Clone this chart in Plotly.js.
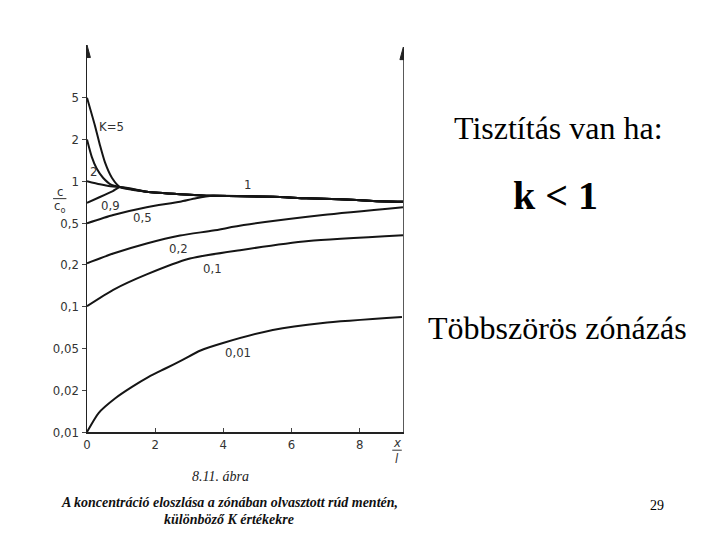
<!DOCTYPE html>
<html>
<head>
<meta charset="utf-8">
<script src="https://cdn.plot.ly/plotly-3.0.1.min.js"></script>
<style>
html,body{margin:0;padding:0;background:#fff;}
#chart{width:720px;height:540px;}
</style>
</head>
<body>
<div id="chart"></div>
<script>
// y-axis tick values (c/c0), equally spaced on the original figure
const yTickVals = [0.01, 0.02, 0.05, 0.1, 0.2, 0.5, 1, 2, 5];
const yTickText = ["0,01", "0,02", "0,05", "0,1", "0,2", "0,5", "1", "2", "5"];
const xTickVals = [0, 2, 4, 6, 8];

// shared branch where curves K >= 0.5 merge
const xMain = [0.97, 1.75, 2.73, 3.7, 5.45, 6.44, 7.42, 8.39, 9.27];
const cMain = [0.907, 0.841, 0.807, 0.785, 0.774, 0.753, 0.742, 0.722, 0.712];

const xK5 = [0, 0.23, 0.38, 0.53, 0.73];
const cK5 = [5.0, 2.73, 1.82, 1.36, 1.06];
const xK2 = [0, 0.14, 0.28, 0.47, 0.72];
const cK2 = [2.0, 1.5, 1.24, 1.06, 0.94];
const xK1 = [0, 0.38, 0.76];
const cK1 = [1.0, 0.95, 0.915];
const xK09 = [0, 0.38, 0.76];
const cK09 = [0.70, 0.77, 0.85];
const xK05 = [0, 0.77, 1.75, 2.73, 3.2];
const cK05 = [0.497, 0.571, 0.650, 0.712, 0.755];
const xK02 = [0, 0.77, 1.75, 2.73, 3.7, 4.6, 6.92, 9.27];
const cK02 = [0.207, 0.256, 0.319, 0.380, 0.424, 0.478, 0.571, 0.650];
const xK01 = [0, 0.77, 1.75, 3.02, 4.49, 6.5, 9.27];
const cK01 = [0.1007, 0.132, 0.1705, 0.2295, 0.2757, 0.337, 0.383];
const xK001 = [0, 0.34, 0.83, 1.32, 1.81, 2.3, 2.79, 3.33, 3.99, 5.45, 6.92, 9.24];
const cK001 = [0.01, 0.0137, 0.0175, 0.0215, 0.0268, 0.0322, 0.0387, 0.0478, 0.0547, 0.0679, 0.0763, 0.0841];

// custom scale: piecewise-logarithmic between equally spaced ticks
function toAxis(v) {
  for (let i = 0; i < yTickVals.length - 1; i++) {
    const a = yTickVals[i], b = yTickVals[i + 1];
    if (v <= b || i === yTickVals.length - 2) {
      return i + Math.log(v / a) / Math.log(b / a);
    }
  }
}

const lineStyle = {color: '#151515', width: 2, shape: 'spline', smoothing: 0.6};
function curve(xs, cs, withMain) {
  let X = xs.slice(), C = cs.slice();
  if (withMain) {
    const last = xs[xs.length - 1];
    xMain.forEach((x, i) => { if (x > last) { X.push(x); C.push(cMain[i]); } });
  }
  return {x: X, y: C.map(toAxis), type: 'scatter', mode: 'lines',
          line: lineStyle, hoverinfo: 'skip', showlegend: false};
}

const traces = [
  curve(xK5, cK5, true),
  curve(xK2, cK2, true),
  curve(xK1, cK1, true),
  curve(xK09, cK09, true),
  curve(xK05, cK05, true),
  curve(xK02, cK02, false),
  curve(xK01, cK01, false),
  curve(xK001, cK001, false)
];

const tickFont = {family: 'Liberation Sans Narrow, DejaVu Sans Condensed, Liberation Sans, sans-serif', size: 13, color: '#333'};
const serif = 'Liberation Serif, Times New Roman, serif';
const XMAX = 9.3, YMAX = 9.26;

function lbl(x, y, t) {
  return {x: x, y: y, xref: 'x', yref: 'y', text: t, showarrow: false, font: tickFont};
}
function ptxt(x, y, t, font, extra) {
  return Object.assign({x: x, y: y, xref: 'paper', yref: 'paper', text: t, showarrow: false,
          font: font, xanchor: 'center', yanchor: 'middle'}, extra || {});
}

const annotations = [
  lbl(0.72, 7.3, 'K=5'),
  lbl(0.18, 6.24, '2'),
  lbl(4.7, 5.93, '1'),
  lbl(0.68, 5.43, '0,9'),
  lbl(1.62, 5.14, '0,5'),
  lbl(2.68, 4.40, '0,2'),
  lbl(3.68, 3.92, '0,1'),
  lbl(4.44, 1.91, '0,01'),
  ptxt(-0.086, 0.622, 'c', tickFont),
  ptxt(-0.086, 0.582, 'c<sub>o</sub>', tickFont),
  ptxt(0.978, -0.027, '<i>x</i>', tickFont),
  ptxt(0.978, -0.068, '<i>l</i>', tickFont),
  ptxt(0.421, -0.116, '<i>8.11. ábra</i>', {family: serif, size: 14, color: '#222'}),
  ptxt(0.449, -0.183, '<b><i>A koncentráció eloszlása a zónában olvasztott rúd mentén,</i></b>', {family: serif, size: 14, color: '#111'}),
  ptxt(0.447, -0.227, '<b><i>különböző K értékekre</i></b>', {family: serif, size: 14, color: '#111'}),
  ptxt(1.487, 0.786, 'Tisztítás van ha:', {family: serif, size: 32, color: '#000'}),
  ptxt(1.479, 0.61, '<b>k &lt; 1</b>', {family: serif, size: 40, color: '#000'}),
  ptxt(1.484, 0.269, 'Többszörös zónázás', {family: serif, size: 32, color: '#000'}),
  ptxt(1.797, -0.189, '29', {family: serif, size: 14, color: '#000'})
];

const shapes = [
  // right vertical line
  {type: 'line', xref: 'x', yref: 'y', x0: XMAX, x1: XMAX, y0: 0, y1: YMAX - 0.2, line: {color: '#222', width: 1.5}},
  // arrows
  {type: 'path', xref: 'x', yref: 'y', path: `M -0.1 ${YMAX-0.3} L 0 ${YMAX} L 0.1 ${YMAX-0.3} Z`, fillcolor: '#222', line: {color: '#222', width: 1}},
  {type: 'path', xref: 'x', yref: 'y', path: `M ${XMAX-0.12} ${YMAX-0.35} L ${XMAX-0.02} ${YMAX-0.05} L ${XMAX+0.08} ${YMAX-0.35} Z`, fillcolor: '#222', line: {color: '#222', width: 1}},
  // fraction bars
  {type: 'line', xref: 'paper', yref: 'paper', x0: -0.107, x1: -0.065, y0: 0.603, y1: 0.603, line: {color: '#333', width: 1}},
  {type: 'line', xref: 'paper', yref: 'paper', x0: 0.963, x1: 0.993, y0: -0.047, y1: -0.047, line: {color: '#333', width: 1}}
];

const layout = {
  width: 720, height: 540,
  margin: {l: 87, r: 316, t: 45, b: 108, pad: 0},
  paper_bgcolor: '#fff', plot_bgcolor: '#fff',
  showlegend: false,
  xaxis: {range: [0, XMAX], tickvals: xTickVals, ticktext: xTickVals.map(String),
          showgrid: false, zeroline: false, showline: true, linecolor: '#222', linewidth: 1.5,
          ticks: 'inside', ticklen: 4, tickcolor: '#444', tickfont: tickFont},
  yaxis: {range: [0, YMAX], tickvals: yTickVals.map((v, i) => i), ticktext: yTickText,
          showgrid: false, zeroline: false, showline: true, linecolor: '#222', linewidth: 1.5,
          ticks: 'outside', ticklen: 4, tickcolor: '#444', tickfont: tickFont},
  annotations: annotations,
  shapes: shapes
};

Plotly.newPlot('chart', traces, layout, {displayModeBar: false, staticPlot: true});
</script>
</body>
</html>
